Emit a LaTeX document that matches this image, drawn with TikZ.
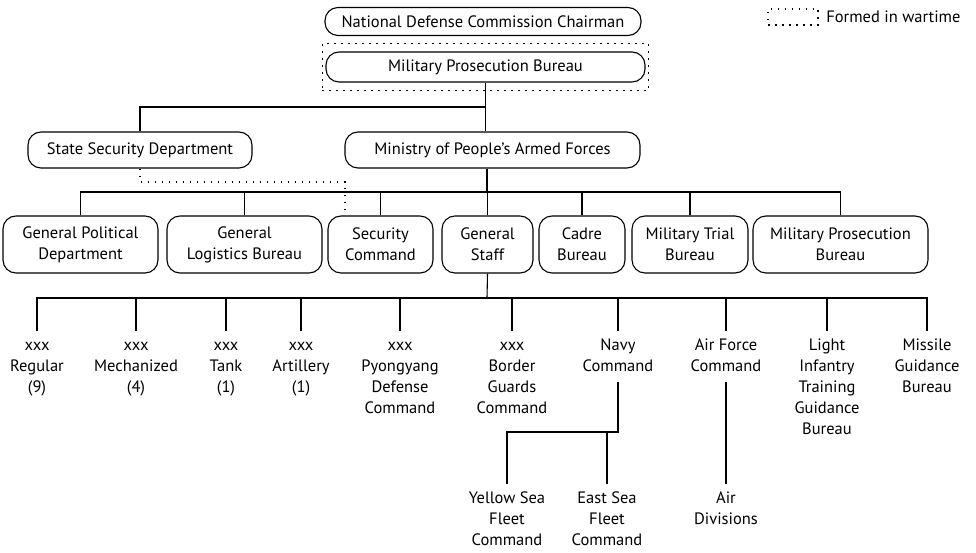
\documentclass[tikz,border=0pt]{standalone}
\usepackage{fontspec}
\setmainfont{PT Sans}
\usetikzlibrary{positioning,fit}
\newcommand\leafstrut{\rule{0pt}{19pt}}

\begin{document}
\begin{tikzpicture}[x=1pt,y=-1pt,line width=1.1pt,font=\fontsize{16.5}{21}\selectfont,
  unit/.style={draw,rounded corners=13pt,align=center,inner sep=0pt,minimum height=57pt},
  head/.style={unit,minimum height=28pt},
  leaf/.style={align=center,anchor=north,inner sep=0pt},
  wartime/.style={dash pattern=on 1.5pt off 5.5pt,line width=1.6pt}]

\useasboundingbox (0,0) rectangle (976,553);

% top of the chart
\node[head,minimum width=316pt] (ndc) at (483,21.5) {National Defense Commission Chairman};
\node[head,minimum width=319pt,minimum height=30pt] (mpb) at (485.5,67) {Military Prosecution Bureau};
\node[wartime,draw,fit=(mpb),inner xsep=3pt,inner ysep=8pt] (mpbwar) {};
\node[head,minimum width=224pt,minimum height=36pt] (ssd) at (140,150) {State Security Department};
\node[head,minimum width=295pt,minimum height=36pt] (mpaf) at (492.5,150) {Ministry of People's Armed Forces};

% departments
\node[unit,minimum width=155pt] (gpd) at (80.5,244.5) {General Political\\Department};
\node[unit,minimum width=155pt] (glb) at (244.5,244.5) {General\\Logistics Bureau};
\node[unit,minimum width=105pt] (sc) at (380.5,244.5) {Security\\Command};
\node[unit,minimum width=91pt] (gs) at (487.5,244.5) {General\\Staff};
\node[unit,minimum width=86pt] (cb) at (582,244.5) {Cadre\\Bureau};
\node[unit,minimum width=116pt] (mtb) at (690,244.5) {Military Trial\\Bureau};
\node[unit,minimum width=175pt] (mpb2) at (840.5,244.5) {Military Prosecution\\Bureau};

% under the general staff
\node[leaf] (reg) at (37,331) {\leafstrut xxx\\Regular\\(9)};
\node[leaf] (mech) at (136,331) {\leafstrut xxx\\Mechanized\\(4)};
\node[leaf] (tank) at (226,331) {\leafstrut xxx\\Tank\\(1)};
\node[leaf] (art) at (301,331) {\leafstrut xxx\\Artillery\\(1)};
\node[leaf] (pdc) at (400,331) {\leafstrut xxx\\Pyongyang\\Defense\\Command};
\node[leaf] (bgc) at (512,331) {\leafstrut xxx\\Border\\Guards\\Command};
\node[leaf] (navy) at (618,331) {\leafstrut Navy\\Command};
\node[leaf] (afc) at (726,331) {\leafstrut Air Force\\Command};
\node[leaf] (litg) at (827,331) {\leafstrut Light\\Infantry\\Training\\Guidance\\Bureau};
\node[leaf] (mgb) at (927,331) {\leafstrut Missile\\Guidance\\Bureau};
\node[leaf] (ysf) at (507,484) {\leafstrut Yellow Sea\\Fleet\\Command};
\node[leaf] (esf) at (607,484) {\leafstrut East Sea\\Fleet\\Command};
\node[leaf] (aird) at (726,484) {\leafstrut Air\\Divisions};

\coordinate (top) at (485.5,107);
\coordinate (mid) at (487,192);
\coordinate (low) at (487,298);
\coordinate (fleet) at (618,432);
\coordinate (dbend) at (345,182);

\draw (mpb.south) -- (top) -| (ssd.north);
\draw (top) -- (top |- mpaf.north);
\draw (mid |- mpaf.south) -- (mid);
\draw (gpd.north) |- (mid) -| (mpb2.north);
\foreach \n in {glb,sc,gs,cb,mtb} \draw (\n.north) -- (\n.north |- mid);
\draw (gs.south) -- (low);
\draw (reg.north) |- (low) -| (mgb.north);
\foreach \n in {mech,tank,art,pdc,bgc,navy,afc,litg} \draw (\n.north) -- (\n.north |- low);
\draw[shorten <=10pt] (navy.south) -- (fleet) -| (ysf.north);
\draw (fleet -| esf.north) -- (esf.north);
\draw[shorten <=10pt] (afc.south) -- (aird.north);
\draw[wartime] (ssd.south) |- (dbend) -- (dbend |- sc.north);

% key
\node[wartime,draw,minimum width=50pt,minimum height=16pt,inner sep=0pt] (key) at (793,17) {};
\node[right=7pt of key,inner sep=0pt] (keytext) {Formed in wartime};

\end{tikzpicture}
\end{document}
